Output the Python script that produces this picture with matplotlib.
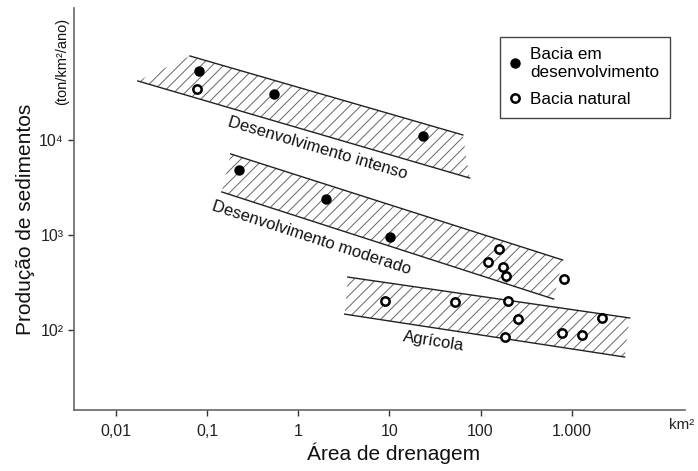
import matplotlib.pyplot as plt
from matplotlib.lines import Line2D

# Band edges (area km2, production ton/km2/ano) - top and bottom lines
intenso_top_x = [0.065, 64]
intenso_top_y = [76600, 11300]
intenso_bot_x = [0.0174, 76]
intenso_bot_y = [41800, 3980]

moderado_top_x = [0.182, 796]
moderado_top_y = [7130, 546]
moderado_bot_x = [0.145, 635]
moderado_bot_y = [2840, 212]

agricola_top_x = [3.5, 4330]
agricola_top_y = [361, 134]
agricola_bot_x = [3.24, 3810]
agricola_bot_y = [147, 52]

# Bacia em desenvolvimento (filled)
dev_x = [0.081, 0.54, 23.2, 0.223, 2.01, 10.1]
dev_y = [53200, 30500, 11000, 4830, 2390, 953]

# Bacia natural (open)
nat_x = [0.077, 158, 120, 175, 189, 817, 8.9, 52, 199, 256, 184, 776, 1288, 2130]
nat_y = [34400, 713, 520, 461, 370, 344, 202, 197, 202, 131, 84, 93, 88, 134]

x_ticks = [0.01, 0.1, 1, 10, 100, 1000]
x_tick_labels = ['0,01', '0,1', '1', '10', '100', '1.000']
y_ticks = [100, 1000, 10000]
y_tick_labels = ['10²', '10³', '10⁴']

plt.rcParams['font.family'] = ['Liberation Sans', 'DejaVu Sans']
plt.rcParams['hatch.linewidth'] = 0.7

fig = plt.figure(figsize=(6.98, 4.71), dpi=100)
ax = fig.add_axes([0.106, 0.1295, 0.875, 0.8535])
ax.set_xscale('log')
ax.set_yscale('log')
ax.set_xlim(0.00347, 17400)
ax.set_ylim(14.4, 245000)

bands = [
    (intenso_top_x, intenso_top_y, intenso_bot_x, intenso_bot_y),
    (moderado_top_x, moderado_top_y, moderado_bot_x, moderado_bot_y),
    (agricola_top_x, agricola_top_y, agricola_bot_x, agricola_bot_y),
]
for tx, ty, bx, by in bands:
    # hatched quadrilateral between the two lines
    px = [tx[0], tx[1], bx[1], bx[0]]
    py = [ty[0], ty[1], by[1], by[0]]
    ax.fill(px, py, facecolor='none', edgecolor='#666666', hatch='///', linewidth=0)
    ax.plot(tx, ty, color='#222222', lw=1.0)
    ax.plot(bx, by, color='#222222', lw=1.0)

ax.plot(dev_x, dev_y, 'o', color='black', markersize=6.5, zorder=5)
ax.plot(nat_x, nat_y, 'o', markerfacecolor='white', markeredgecolor='black',
        markeredgewidth=1.8, markersize=6, zorder=5)

ax.text(1.64, 8240, 'Desenvolvimento intenso', rotation=-16.5, ha='center', va='center',
        fontsize=12, color='#111111')
ax.text(1.41, 929, 'Desenvolvimento moderado', rotation=-18, ha='center', va='center',
        fontsize=12, color='#111111')
ax.text(30.7, 76.6, 'Agrícola', rotation=-9, ha='center', va='center',
        fontsize=12, color='#111111')

ax.spines['top'].set_visible(False)
ax.spines['right'].set_visible(False)
for s in ['left', 'bottom']:
    ax.spines[s].set_color('#666666')
    ax.spines[s].set_linewidth(1.2)

ax.set_xticks(x_ticks)
ax.set_xticklabels(x_tick_labels)
ax.set_yticks(y_ticks)
ax.set_yticklabels(y_tick_labels)
ax.minorticks_off()
ax.tick_params(axis='both', labelsize=11.5, colors='#333333', length=4, width=1)
ax.tick_params(axis='x', pad=6)
ax.tick_params(axis='both', labelcolor='#222222')

fig.text(0.564, 0.038, 'Área de drenagem', ha='center', va='center',
         fontsize=15, color='#111111')
fig.text(0.036, 0.535, 'Produção de sedimentos', rotation=90, ha='center', va='center',
         fontsize=15, color='#111111')
fig.text(0.089, 0.87, '(ton/km²/ano)', rotation=90, ha='center', va='center',
         fontsize=10.5, color='#111111')
fig.text(0.977, 0.098, 'km²', ha='center', va='center', fontsize=11, color='#222222')

handles = [
    Line2D([], [], marker='o', linestyle='none', color='black', markersize=6.5),
    Line2D([], [], marker='o', linestyle='none', markerfacecolor='white',
           markeredgecolor='black', markeredgewidth=1.8, markersize=6),
]
leg = ax.legend(handles, ['Bacia em\ndesenvolvimento', 'Bacia natural'],
                loc='upper left', bbox_to_anchor=(0.697, 0.928), borderaxespad=0,
                fontsize=12.3, fancybox=False, framealpha=1, edgecolor='#444444',
                handlelength=0.6, handletextpad=0.6, borderpad=0.6, labelspacing=0.75)
leg.get_frame().set_linewidth(1.0)

fig.savefig('out.png', dpi=100)
